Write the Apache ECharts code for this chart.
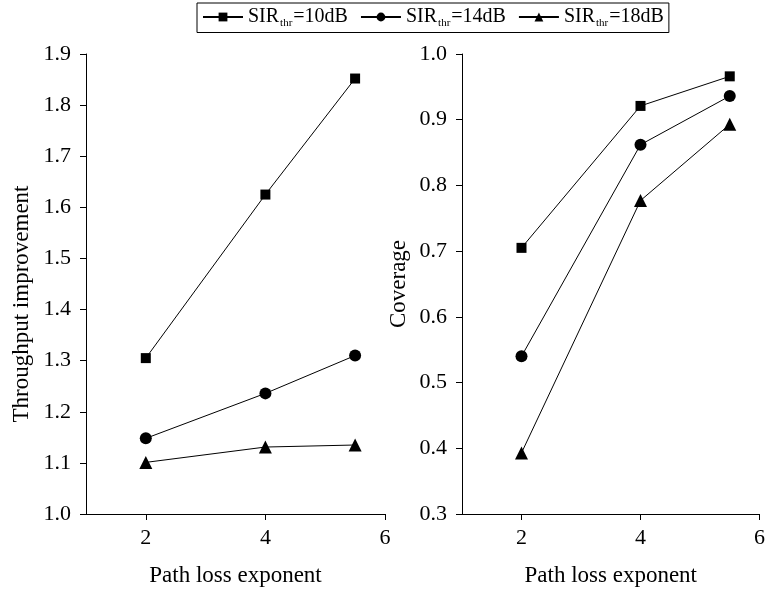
<!DOCTYPE html>
<html><head><meta charset="utf-8">
<script src="https://cdn.jsdelivr.net/npm/echarts@6/dist/echarts.min.js"></script>
<style>html,body{margin:0;padding:0;background:#fff}#c{width:768px;height:592px}</style>
</head><body><div id="c"></div>
<script>
const xValues = [2, 4, 5.5];
const seriesNames = ['10dB', '14dB', '18dB'];
const throughput10 = [1.305, 1.625, 1.852];
const throughput14 = [1.148, 1.236, 1.310];
const throughput18 = [1.101, 1.131, 1.135];
const coverage10 = [0.705, 0.921, 0.966];
const coverage14 = [0.540, 0.862, 0.936];
const coverage18 = [0.393, 0.777, 0.893];
const xTicks = [2, 4, 6];

const FONT = '"Liberation Serif", "Times New Roman", serif';
const symbols = ['rect', 'circle', 'triangle'];
const symSizes = [10, 12, 13];

function pairs(ys){ return xValues.map((x,i)=>[x, ys[i]]); }

function mkX(idx){
  return {
    type:'value', gridIndex: idx, min:1, max:6, interval:1,
    axisLine:{show:true, lineStyle:{color:'#000', width:1}},
    axisTick:{show:true, inside:false, length:6, customValues:xTicks, lineStyle:{color:'#000'}},
    axisLabel:{show:true, customValues:xTicks, color:'#000', fontFamily:FONT, fontSize:22, margin:13},
    splitLine:{show:false},
    name:'Path loss exponent', nameLocation:'middle', nameGap:50,
    nameTextStyle:{color:'#000', fontFamily:FONT, fontSize:23}
  };
}
function mkY(idx, min, max, name, gap, pad){
  return {
    type:'value', gridIndex: idx, min:min, max:max, interval:0.1,
    axisLine:{show:true, lineStyle:{color:'#000', width:1}},
    axisTick:{show:true, inside:false, length:6, lineStyle:{color:'#000'}},
    axisLabel:{color:'#000', fontFamily:FONT, fontSize:22, margin:15, formatter:v=>v.toFixed(1)},
    splitLine:{show:false},
    name:name, nameLocation:'middle', nameGap:gap, nameRotate:90,
    nameTextStyle:{color:'#000', fontFamily:FONT, fontSize:23, padding:pad}
  };
}
const leftData = [throughput10, throughput14, throughput18];
const rightData = [coverage10, coverage14, coverage18];
const series = [];
seriesNames.forEach((n,i)=>{
  series.push({name:n, type:'line', xAxisIndex:0, yAxisIndex:0, data:pairs(leftData[i]),
    symbol:symbols[i], symbolSize:symSizes[i], lineStyle:{color:'#000', width:1},
    itemStyle:{color:'#000'}, animation:false});
  series.push({name:n, type:'line', xAxisIndex:1, yAxisIndex:1, data:pairs(rightData[i]),
    symbol:symbols[i], symbolSize:symSizes[i], lineStyle:{color:'#000', width:1},
    itemStyle:{color:'#000'}, animation:false});
});

const chart = echarts.init(document.getElementById('c'));
chart.setOption({
  backgroundColor:'#fff',
  animation:false,
  legend:{
    data:seriesNames, top:3, left:197, orient:'horizontal',
    borderColor:'#000', borderWidth:1, padding:[4,5,4,5], itemGap:12,
    itemWidth:40, itemHeight:11,
    formatter: n => '{a|SIR}{b|thr}{a|=' + n + '}',
    textStyle:{color:'#000', fontFamily:FONT, fontSize:20,
      rich:{a:{fontFamily:FONT, fontSize:20, color:'#000'},
            b:{fontFamily:FONT, fontSize:11, color:'#000', verticalAlign:'bottom', padding:[12,1,0,1]}}}
  },
  grid:[
    {left:86, top:54, width:299, bottom:77},
    {left:462, top:54, width:300, bottom:77}
  ],
  xAxis:[mkX(0), mkX(1)],
  yAxis:[mkY(0, 1.0, 1.9, 'Throughput improvement', 53, [0,40,0,0]), mkY(1, 0.3, 1.0, 'Coverage', 52, 0)],
  series:series
});
</script></body></html>
